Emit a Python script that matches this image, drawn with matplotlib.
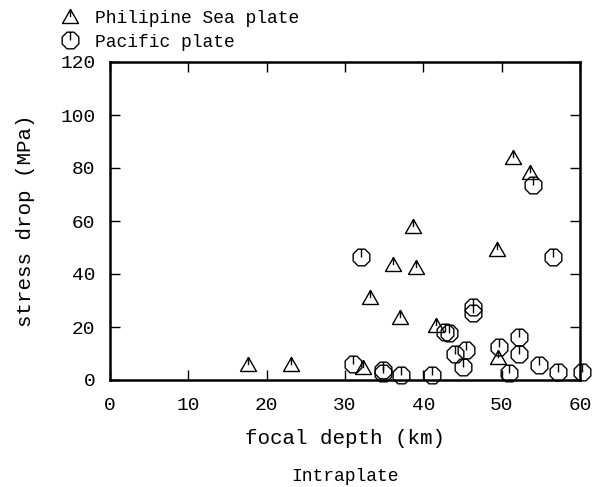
import numpy as np
import matplotlib
matplotlib.use("Agg")
import matplotlib.pyplot as plt
from matplotlib.path import Path
from matplotlib.lines import Line2D

# ---- data ----
psp_depth = [17.6, 23.1, 32.3, 33.2, 36.1, 37.0, 38.7, 39.1, 41.6, 49.4, 49.5, 51.5, 53.6]
psp_stress = [5.5, 5.5, 4.5, 31.0, 43.4, 23.4, 57.6, 42.4, 20.4, 49.0, 8.2, 83.7, 78.0]

pac_depth = [31.0, 32.0, 34.8, 34.9, 37.2, 41.1, 42.8, 43.3, 44.1, 45.1, 45.5, 46.4, 46.4,
             49.6, 50.9, 52.2, 52.2, 54.0, 54.8, 56.5, 57.2, 60.2]
pac_stress = [6.0, 46.5, 3.8, 2.5, 1.9, 1.9, 18.0, 17.8, 9.7, 5.0, 11.3, 27.4, 25.1,
              12.6, 2.5, 16.4, 9.7, 73.6, 5.7, 46.5, 3.1, 3.1]

xticks = [0, 10, 20, 30, 40, 50, 60]
yticks = [0, 20, 40, 60, 80, 100, 120]
labels = ["Philipine Sea plate", "Pacific plate"]

plt.rcParams['font.family'] = ['Liberation Mono', 'DejaVu Sans Mono']

# ---- custom markers ----
tri_verts = [(0, 1), (-1, -0.75), (1, -0.75), (0, 1), (0, 1), (0, 0.05)]
tri_codes = [Path.MOVETO, Path.LINETO, Path.LINETO, Path.CLOSEPOLY, Path.MOVETO, Path.LINETO]
tri_marker = Path(tri_verts, tri_codes)

ang = np.deg2rad(22.5 + 45 * np.arange(8))
oct_v = [(np.cos(a), np.sin(a)) for a in ang]
top = np.sin(np.deg2rad(67.5))
oct_verts = oct_v + [oct_v[0], (0, top), (0, 0)]
oct_codes = [Path.MOVETO] + [Path.LINETO] * 7 + [Path.CLOSEPOLY, Path.MOVETO, Path.LINETO]
oct_marker = Path(oct_verts, oct_codes)

fig = plt.figure(figsize=(6.07, 4.87), dpi=100)
ax = fig.add_axes([110 / 607, 107 / 487, 470 / 607, 318 / 487])

ms_t = 11.5
ms_c = 12
mew = 1.0
ax.plot(psp_depth, psp_stress, linestyle='none', marker=tri_marker, markersize=ms_t,
        markerfacecolor='none', markeredgecolor='black', markeredgewidth=mew, clip_on=False, zorder=3)
ax.plot(pac_depth, pac_stress, linestyle='none', marker=oct_marker, markersize=ms_c,
        markerfacecolor='none', markeredgecolor='black', markeredgewidth=mew, clip_on=False, zorder=3)

ax.set_xlim(0, 60)
ax.set_ylim(0, 120)
ax.set_xticks(xticks)
ax.set_yticks(yticks)
ax.tick_params(direction='in', top=True, right=True, length=7, width=1.0,
               labelsize=14, colors='black')
ax.tick_params(axis='x', pad=12)
ax.tick_params(axis='y', pad=10.5)
for s in ax.spines.values():
    s.set_linewidth(1.8)
ax.set_xlabel("focal depth (km)", fontsize=15, labelpad=11)
ax.set_ylabel("stress drop (MPa)", fontsize=15, labelpad=18)
ax.text(0.5, -0.305, "Intraplate", transform=ax.transAxes, ha='center', va='center', fontsize=13)

handles = [
    Line2D([], [], linestyle='none', marker=tri_marker, markersize=ms_t, markerfacecolor='none',
           markeredgecolor='black', markeredgewidth=mew),
    Line2D([], [], linestyle='none', marker=oct_marker, markersize=ms_c, markerfacecolor='none',
           markeredgecolor='black', markeredgewidth=mew),
]
fig.legend(handles, labels, loc='upper left', bbox_to_anchor=(61 / 607, 1 - 10 / 487),
           frameon=False, fontsize=13, handlelength=1.0, handletextpad=0.9,
           labelspacing=0.37, borderpad=0, borderaxespad=0)

fig.savefig("out.png", dpi=100)
